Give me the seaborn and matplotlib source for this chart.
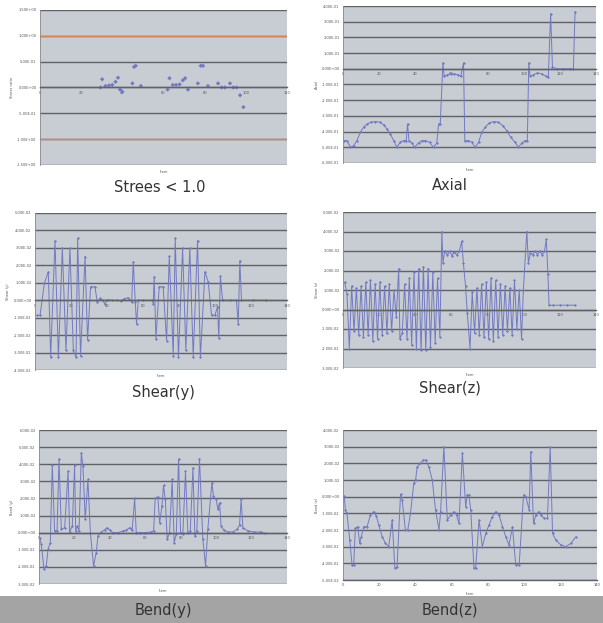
import matplotlib
matplotlib.use("Agg")
import matplotlib.pyplot as plt
from matplotlib.patches import Rectangle
from matplotlib.ticker import FuncFormatter
import seaborn as sns
import pandas as pd

# ---------------- data ----------------
titles = ["Strees < 1.0", "Axial", "Shear(y)", "Shear(z)", "Bend(y)", "Bend(z)"]
ylabels = ["Stress ratio", "Axial", "Shear (y)", "Shear (z)", "Bend (y)", "Bend (z)"]

stress_x = [29.4, 30.2, 31.8, 33.5, 35.1, 36.7, 37.9, 38.9, 40.0, 44.9, 45.7, 46.5, 49.0,
            62.0, 62.9, 64.5, 66.1, 67.8, 69.4, 70.5, 71.9, 76.7, 78.1, 79.2, 81.6,
            86.5, 88.2, 89.8, 92.3, 93.9, 95.5, 97.2, 98.8]
stress_y = [0.0, 0.16, 0.03, 0.04, 0.05, 0.11, 0.19, -0.04, -0.08, 0.08, 0.40, 0.42, 0.03,
            -0.04, 0.18, 0.05, 0.05, 0.06, 0.14, 0.18, -0.04, 0.08, 0.42, 0.42, 0.03,
            0.08, 0.0, 0.0, 0.08, 0.0, 0.0, -0.15, -0.38]

axial_x = [0.4, 2.2, 4.1, 5.9, 7.7, 9.6, 11.4, 13.3, 15.5, 17.9, 20.3, 22.5, 24.3, 26.2, 28.0,
           29.8, 31.7, 33.5, 35.0, 35.7, 36.5, 38.1, 39.6, 41.8, 43.7, 45.5, 47.9, 50.1, 51.9,
           52.9, 53.8, 55.3, 56.0, 57.8, 59.7, 61.5, 63.4, 65.2, 66.7, 67.4, 69.4, 71.3, 73.1,
           75.0, 76.8, 78.7, 80.9, 83.3, 86.0, 88.4, 90.6, 92.8, 95.2, 97.1, 98.9, 100.8, 102.0,
           102.8, 103.5, 105.4, 107.6, 110.0, 112.2, 113.6, 114.9, 115.9, 118.3, 121.9, 125.6,
           127.5, 128.4]
axial_y = [-4.57, -4.57, -5.0, -4.9, -4.57, -4.04, -3.72, -3.51, -3.40, -3.36, -3.40, -3.57,
           -3.83, -4.15, -4.57, -5.0, -4.68, -4.57, -4.57, -3.51, -4.57, -4.72, -5.0, -4.72,
           -4.57, -4.57, -4.68, -5.0, -4.72, -3.51, -3.51, 0.38, -0.47, -0.38, -0.32, -0.32,
           -0.38, -0.47, 0.38, -4.57, -4.57, -4.68, -5.0, -4.68, -4.04, -3.72, -3.45, -3.36,
           -3.40, -3.62, -3.94, -4.36, -4.68, -5.0, -4.72, -4.57, -4.57, 0.38, -0.47, -0.38,
           -0.26, -0.32, -0.47, -0.53, 3.51, 0.11, 0.0, 0.0, 0.0, 0.0, 3.62]

sheary_x = [0.9, 2.8, 5.2, 7.4, 8.7, 11.1, 13.0, 15.2, 17.2, 19.4, 21.3, 22.8, 23.7, 25.3,
            27.8, 29.2, 30.9, 33.3, 34.6, 36.1, 37.6, 38.9, 40.1, 42.6, 45.3, 47.5, 49.4,
            51.8, 53.7, 54.6, 55.7, 56.4, 57.4, 60.1, 64.8, 65.7, 66.2, 67.2, 69.0, 71.2,
            73.1, 74.6, 76.8, 77.9, 79.7, 82.0, 83.8, 86.0, 87.9, 90.3, 91.9, 94.4, 96.2,
            98.1, 99.9, 101.4, 102.1, 103.0, 104.2, 108.2, 111.9, 112.9, 113.8, 114.7,
            121.2, 128.6]
sheary_y = [-0.87, -0.87, 0.96, 1.63, -3.27, 3.40, -3.27, 2.98, -2.88, 2.98, -2.88, -3.27,
            3.56, -3.17, 2.50, -2.27, 0.77, 0.77, -0.10, 0.10, 0.0, -0.23, 0.04, 0.0, 0.0,
            -0.04, 0.08, 0.15, -0.10, 2.21, -0.10, -1.35, 0.0, 0.0, 0.0, -0.19, 1.35, -2.21,
            0.77, 0.77, -2.31, 2.54, -3.17, 3.56, -3.27, 2.98, -2.88, 2.98, -3.27, 3.42,
            -3.27, 1.63, 1.06, -0.87, -0.87, -0.38, -2.15, 1.38, 0.0, 0.0, 0.0, -1.38, 2.27,
            0.0, 0.0, 0.0]

shearz_x = [0.9, 2.2, 3.5, 4.8, 6.1, 7.4, 8.7, 10.0, 11.3, 12.6, 13.9, 15.2, 16.5, 17.8,
            19.1, 20.4, 21.7, 23.0, 24.3, 25.6, 26.9, 28.2, 29.5,
            30.8, 31.5,
            32.8, 34.1, 35.4, 36.7, 38.0, 39.3, 40.6, 41.9, 43.2, 44.5, 45.8, 47.1, 48.4,
            49.7, 51.0, 52.3, 53.6,
            54.7, 55.3, 56.3, 57.8, 59.0, 60.3, 61.5, 62.9, 64.4, 65.7, 66.6, 67.8, 68.8, 70.3,
            71.5, 72.8, 74.1, 75.4, 76.7, 78.0, 79.3, 80.6, 81.9, 83.2, 84.5, 85.8, 87.1,
            88.4, 89.7, 91.0, 92.3, 93.6, 94.9, 96.2, 97.5, 98.8, 99.8,
            101.7, 102.6, 103.7, 105.0, 106.3, 107.6, 108.9, 110.2, 111.5, 112.5, 113.4,
            114.0, 116.0, 120.0, 124.0, 128.4]
shearz_y = [1.4, 0.8, -2.0, 1.2, -1.1, 1.1, -1.3, 1.2, -1.4, 1.4, -1.3, 1.5, -1.6, 1.3,
            -1.5, 1.4, -1.3, 1.2, -1.2, 1.3, -1.1, 1.0, -0.4,
            2.1, -1.5,
            -1.2, 1.3, -1.5, 1.6, -1.8, 1.9, -2.0, 2.1, -2.1, 2.2, -2.1, 2.1, -1.9, 1.9,
            -1.7, 1.6, -1.4,
            4.0, 2.4, 3.0, 2.8, 3.0, 2.75, 2.95, 2.8, 3.0, 3.5, 2.4, 1.2, -0.2, -2.0,
            0.9, -1.2, 1.1, -1.3, 1.3, -1.4, 1.4, -1.5, 1.6, -1.6, 1.5, -1.4, 1.3, -1.3,
            1.2, -1.1, 1.1, -1.3, 1.5, -1.0, 1.0, -1.5, 1.0,
            4.0, 2.4, 2.9, 2.8, 3.0, 2.8, 3.0, 2.8, 3.0, 3.6, 1.8,
            0.22, 0.22, 0.22, 0.22, 0.22]

bendy_x = [0.4, 1.3, 2.8, 4.1, 5.1, 6.4, 7.5, 8.8, 10.2, 11.3, 12.6, 14.5, 16.4, 17.3,
           18.8, 20.1, 20.7, 21.6, 22.6, 23.9, 24.8, 26.1, 27.6, 29.0, 30.8, 32.3, 33.3,
           35.2, 37.0, 38.4, 39.9, 41.7, 44.6, 47.4, 49.3, 51.1, 52.6, 54.0, 54.9, 56.8,
           59.6, 63.4, 64.7, 65.6, 67.1, 68.1, 69.4, 70.3, 71.3, 72.4, 73.7, 75.2, 76.3,
           77.5, 78.8, 79.9, 81.2, 82.7, 84.0, 85.4, 86.9, 88.0, 89.1, 90.6, 92.5, 94.0,
           95.3, 97.6, 98.5, 100.0, 101.0, 101.9, 102.8, 104.2, 106.6, 109.4, 111.7, 113.2,
           114.1, 115.1, 117.9, 121.6, 125.4, 127.3]
bendy_y = [-0.29, -0.68, -2.10, -1.94, -0.97, -0.58, 3.94, 0.10, 0.10, 4.31, 0.19, 0.29,
           3.59, 0.04, 0.39, 3.94, 0.10, 0.39, 0.10, 4.66, 3.88, 0.78, 3.11, 0.0, -1.94,
           -1.17, -0.19, 0.04, 0.16, 0.29, 0.16, 0.0, 0.0, 0.10, 0.16, 0.29, 0.16, 2.0, 0.0,
           0.0, 0.0, 0.04, 0.10, 2.0, 2.10, 0.58, 1.55, 2.76, 1.94, -0.39, 0.0, 3.11, -0.58,
           -0.10, 4.31, 0.0, -0.10, 3.59, 0.0, 0.10, 3.79, -0.19, 0.10, 4.31, -0.39, -1.94,
           0.19, 2.91, 2.14, 1.94, 1.36, 1.75, 0.39, 0.16, 0.04, 0.04, 0.19, 0.43, 1.94,
           0.29, 0.10, 0.04, 0.04, -0.04]

bendz_x = [0.7, 1.3, 2.2, 3.7, 5.0, 5.9, 6.8, 8.1, 9.2, 10.1, 11.4, 13.3, 15.1, 16.9, 18.4,
           19.7, 21.6, 23.4, 25.2, 27.1, 28.6, 29.8, 31.7, 32.6, 34.4, 35.7, 37.2, 39.0,
           40.0, 40.9, 42.7, 44.2, 45.5, 47.3, 49.2, 51.0, 52.9, 53.8, 55.6, 57.5, 59.3,
           61.2, 62.6, 63.9, 65.8, 67.6, 68.5, 69.4, 70.4, 72.2, 73.1, 75.0, 76.8, 78.7,
           80.5, 82.3, 84.2, 86.0, 87.9, 89.7, 91.5, 93.4, 95.2, 97.1, 99.5, 100.8, 102.6,
           103.5, 105.0, 106.3, 107.8, 109.0, 110.9, 112.7, 114.2, 115.5, 117.3, 120.1,
           122.9, 125.6, 128.4]
bendz_y = [0.04, -0.8, -1.0, -2.6, -4.1, -4.1, -1.9, -1.8, -2.8, -2.4, -1.8, -1.8, -1.1,
           -0.9, -1.16, -1.7, -2.4, -2.8, -3.0, -1.4, -4.3, -4.2, 0.14, -0.2, -2.0, -2.0,
           -1.0, 0.8, 1.0, 1.8, 2.0, 2.2, 2.2, 1.8, 1.0, -0.8, -2.0, -0.9, 3.0, -1.4, -1.1,
           -0.9, -1.1, -1.6, 2.6, -0.6, 0.1, 0.1, -0.8, -4.3, -4.3, -1.4, -3.0, -2.2, -1.7,
           -1.2, -0.9, -1.1, -1.8, -2.4, -2.9, -1.8, -4.1, -4.1, 0.1, 0.0, -0.8, 2.7, -1.6,
           -1.1, -0.9, -1.1, -1.3, -1.3, 3.0, -2.2, -2.6, -2.9, -3.0, -2.8, -2.4]

x_ticks_120 = [0, 20, 40, 60, 80, 100, 120]
x_ticks_140 = [0, 20, 40, 60, 80, 100, 120, 140]

# ---------------- style ----------------
sns.set_style("white")
plt.rcParams["font.family"] = ["DejaVu Sans"]

FACE = "#c8ccd3"
GRID = "#606267"
LINE = "#727ac2"

fig = plt.figure(figsize=(6.03, 6.23), dpi=100)

# gray band at the bottom
fig.add_artist(Rectangle((0, 0), 1, 27 / 623, transform=fig.transFigure,
                         facecolor="#a4a4a4", edgecolor="none", zorder=0))


def px_ax(l, t, r, b):
    return fig.add_axes([l / 603, 1 - b / 623, (r - l) / 603, (b - t) / 623])


def style(ax, ylim, ystep, xticks, scale, zero_axis=True, ylabel=""):
    ax.set_facecolor(FACE)
    ax.set_xlim(xticks[0], xticks[-1])
    ax.set_ylim(*ylim)
    yt = []
    v = ylim[0]
    while v <= ylim[1] + 1e-9:
        yt.append(round(v, 6))
        v += ystep
    ax.set_yticks(yt)
    ax.set_xticks(xticks)
    ax.yaxis.set_major_formatter(FuncFormatter(lambda v, p: f"{v * scale:.2E}"))
    ax.grid(axis="y", color=GRID, lw=1.0)
    ax.grid(axis="x", visible=False)
    ax.set_axisbelow(True)
    for s in ["top", "right"]:
        ax.spines[s].set_visible(False)
    ax.spines["left"].set_color("#8a8a8a")
    ax.spines["left"].set_linewidth(0.6)
    if zero_axis:
        ax.spines["bottom"].set_position(("data", 0))
    ax.spines["bottom"].set_color(GRID)
    ax.spines["bottom"].set_linewidth(1.0)
    ax.tick_params(labelsize=2.6, length=1.5, width=0.4, colors="#555555", pad=1)
    ax.set_xlabel("")
    ax.set_ylabel(ylabel, fontsize=2.6, color="#555555", labelpad=2)


def draw_line(ax, xs, ys):
    df = pd.DataFrame({"x": xs, "y": ys})
    sns.lineplot(data=df, x="x", y="y", ax=ax, sort=False, estimator=None,
                 color=LINE, lw=0.7, marker="D", markersize=1.5,
                 markeredgewidth=0, legend=False)


def xlabel_text(ax, y_px):
    bb = ax.get_position()
    fig.text(bb.x0 + bb.width / 2, 1 - y_px / 623, "Item", fontsize=2.6,
             color="#555555", ha="center", va="center")


# 1 Stress
ax1 = px_ax(40, 10, 287, 165)
df1 = pd.DataFrame({"x": stress_x, "y": stress_y})
sns.scatterplot(data=df1, x="x", y="y", ax=ax1, color=LINE, marker="D", s=5,
                edgecolor="none", legend=False)
style(ax1, (-1.5, 1.5), 0.5, x_ticks_120, 1.0, ylabel=ylabels[0])
for yv in (1.0, -1.0):
    ax1.axhline(yv, color="#d8845a", lw=1.0, zorder=1)
xlabel_text(ax1, 172)

# 2 Axial
ax2 = px_ax(343, 6, 596, 163)
draw_line(ax2, axial_x, axial_y)
style(ax2, (-6, 4), 1, x_ticks_140, 0.1, ylabel=ylabels[1])
xlabel_text(ax2, 170)

# 3 Shear(y)
ax3 = px_ax(35, 213, 287, 370)
draw_line(ax3, sheary_x, sheary_y)
style(ax3, (-4, 5), 1, x_ticks_140, 0.01, ylabel=ylabels[2])
xlabel_text(ax3, 376)

# 4 Shear(z)
ax4 = px_ax(343, 212, 596, 368)
draw_line(ax4, shearz_x, shearz_y)
style(ax4, (-3, 5), 1, x_ticks_140, 0.01, ylabel=ylabels[3])
xlabel_text(ax4, 375)

# 5 Bend(y)
ax5 = px_ax(39, 430, 287, 584)
draw_line(ax5, bendy_x, bendy_y)
style(ax5, (-3, 6), 1, x_ticks_140, 0.01, ylabel=ylabels[4])
xlabel_text(ax5, 591)

# 6 Bend(z)
ax6 = px_ax(343, 430, 597, 580)
draw_line(ax6, bendz_x, bendz_y)
style(ax6, (-5, 4), 1, x_ticks_140, 0.01, zero_axis=False, ylabel=ylabels[5])
xlabel_text(ax6, 594)

# titles
title_pos = [(160, 188), (450, 185), (163, 392), (450, 388), (163, 610), (450, 610)]
for t, (xp, yp) in zip(titles, title_pos):
    fig.text(xp / 603, 1 - yp / 623, t, fontsize=10.5, color="#333333",
             ha="center", va="center")

fig.savefig("out.png", dpi=100)
